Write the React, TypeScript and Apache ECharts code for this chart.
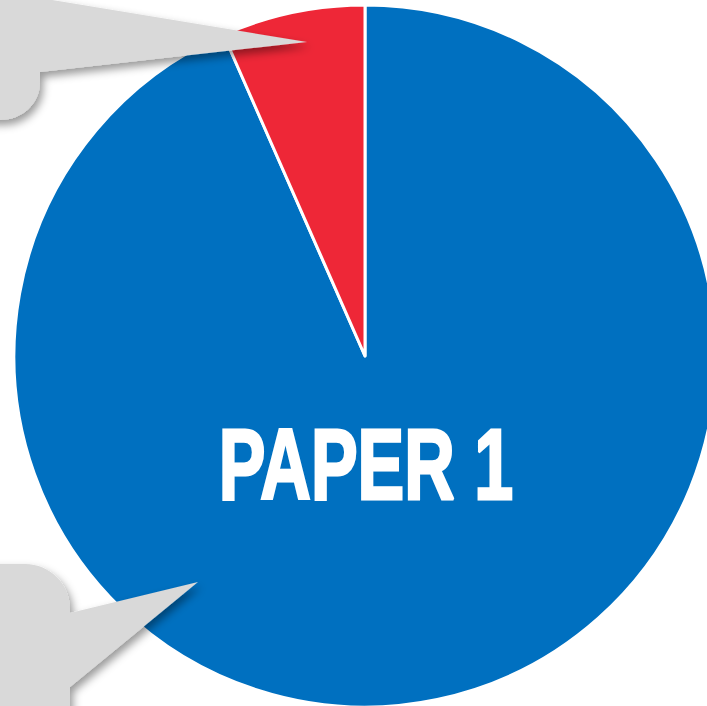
import React, { useEffect, useRef } from "react";
import * as echarts from "echarts";

const categories = ["Main", "Other"];
const values = [93.4, 6.6];
const colors = ["#0070C0", "#EE2737"];
const centerLabel = "PAPER 1";

const topCallout =
  "M -80 -120 L 40 -120 L 40 -2 L 307 42 L 40 72 L 40 82 C 40 104 22 120 0 120 L -80 120 Z";
const bottomCallout =
  "M -80 564 L 25 564 C 50 564 70 584 70 609 L 70 613 L 198 582 L 70 687 L 70 820 L -80 820 Z";

echarts.graphic.registerShape("calloutTop", echarts.graphic.extendPath(topCallout, {}));
echarts.graphic.registerShape("calloutBottom", echarts.graphic.extendPath(bottomCallout, {}));

export default function App() {
  const ref = useRef<HTMLDivElement>(null);
  useEffect(() => {
    document.body.style.margin = "0";
    const chart = echarts.init(ref.current!, undefined, { renderer: "svg" });
    const shadow = {
      fill: "#D9D9D9",
      shadowBlur: 8,
      shadowOffsetX: 3,
      shadowOffsetY: 5,
      shadowColor: "rgba(0,0,0,0.4)",
    };
    chart.setOption({
      animation: false,
      backgroundColor: "#ffffff",
      series: [
        {
          type: "pie",
          center: [365, 356],
          radius: 351,
          startAngle: 90,
          clockwise: true,
          label: { show: false },
          labelLine: { show: false },
          itemStyle: { borderColor: "#ffffff", borderWidth: 3 },
          data: categories.map((c, i) => ({
            name: c,
            value: values[i],
            itemStyle: { color: colors[i] },
          })),
        },
      ],
      graphic: [
        { type: "calloutTop", x: 0, y: 0, z: 10, style: { ...shadow } },
        { type: "calloutBottom", x: 0, y: 0, z: 10, style: { ...shadow } },
        {
          type: "text",
          x: 366,
          y: 464,
          z: 20,
          scaleX: 0.7,
          style: {
            text: centerLabel,
            fill: "#ffffff",
            stroke: "#ffffff",
            lineWidth: 3,
            font: "bold 100px 'Liberation Sans Narrow', 'Liberation Sans', sans-serif",
            textAlign: "center",
            textVerticalAlign: "middle",
          },
        },
      ],
    });
    return () => chart.dispose();
  }, []);
  return <div ref={ref} style={{ width: 707, height: 706 }} />;
}
